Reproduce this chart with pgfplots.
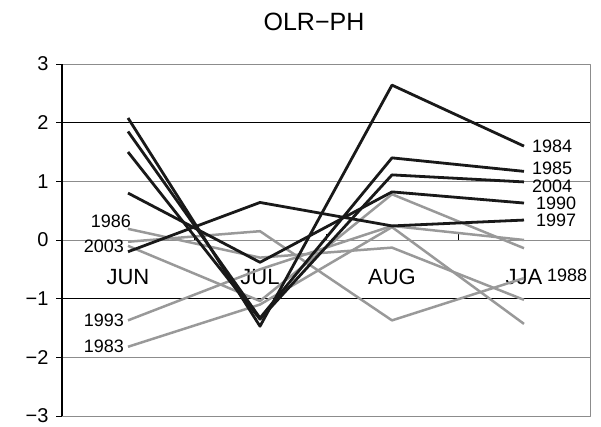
\documentclass[border=0pt]{standalone}
\usepackage{pgfplots}
\pgfplotsset{compat=1.18}
\usepackage{fontspec}
\setmainfont{Liberation Sans}
\definecolor{blk}{gray}{0.1}
\definecolor{gry}{gray}{0.6}
\definecolor{grid}{gray}{0.55}
\begin{document}
\begin{tikzpicture}
\begin{axis}[
  scale only axis, width=528pt, height=352pt,
  xmin=-0.5, xmax=3.5, ymin=-3, ymax=3,
  ytick={-3,-2,-1,0,1,2,3},
  yticklabels={−3,−2,−1,0,1,2,3},
  yticklabel style={font=\fontsize{20}{20}\selectfont, xshift=-10pt},
  xtick=\empty,
  axis line style={grid, line width=1pt},
  tick style={draw=none},
  clip=false,
  line join=round,
]
% grid
\draw[grid, line width=1pt] (axis cs:-0.5,1) -- (axis cs:3.5,1);
\draw[grid, line width=1pt] (axis cs:-0.5,0) -- (axis cs:3.5,0);
\draw[grid, line width=1pt] (axis cs:-0.5,-2) -- (axis cs:3.5,-2);
\draw[black, line width=0.8pt] (axis cs:-0.5,2) -- (axis cs:3.5,2);
\draw[black, line width=0.8pt] (axis cs:-0.5,-1) -- (axis cs:3.5,-1);
\draw[black, line width=1.2pt] (axis cs:-0.5,-3) -- (axis cs:-0.5,3);
\pgfplotsinvokeforeach{-3,-2,-1,0,1,2,3}{\draw[black,line width=1pt] (axis cs:-0.5,#1) -- ++(-6pt,0pt);}
\pgfplotsinvokeforeach{0.5,1.5,2.5}{\draw[black,line width=0.8pt] (axis cs:#1,0) -- ++(0pt,6pt);}
% category labels
\node[font=\fontsize{22}{22}\selectfont] at (axis cs:0,-0.63) {JUN};
\node[font=\fontsize{22}{22}\selectfont] at (axis cs:1,-0.63) {JUL};
\node[font=\fontsize{22}{22}\selectfont] at (axis cs:2,-0.63) {AUG};
\node[font=\fontsize{22}{22}\selectfont] at (axis cs:3,-0.63) {JJA};
% gray series
\addplot[gry, line width=2.5pt] coordinates {(0,0.19) (1,-0.30) (2,-0.13) (3,-1.02)};% 1986
\addplot[gry, line width=2.5pt] coordinates {(0,-0.10) (1,-1.04) (2,0.78) (3,-0.14)};% 2003
\addplot[gry, line width=2.5pt] coordinates {(0,-0.03) (1,0.15) (2,-1.37) (3,-0.65)};% 1988
\addplot[gry, line width=2.5pt] coordinates {(0,-1.37) (1,-0.50) (2,0.24) (3,0.00)};% 1993
\addplot[gry, line width=2.5pt] coordinates {(0,-1.82) (1,-1.10) (2,0.22) (3,-1.43)};% 1983
% black series
\addplot[blk, line width=2.8pt] coordinates {(0,2.08) (1,-1.47) (2,2.64) (3,1.60)};% 1984
\addplot[blk, line width=2.8pt] coordinates {(0,1.85) (1,-1.33) (2,1.40) (3,1.17)};% 1985
\addplot[blk, line width=2.8pt] coordinates {(0,1.50) (1,-1.35) (2,1.11) (3,0.99)};% 2004
\addplot[blk, line width=2.8pt] coordinates {(0,0.80) (1,-0.38) (2,0.82) (3,0.63)};% 1990
\addplot[blk, line width=2.8pt] coordinates {(0,-0.20) (1,0.64) (2,0.24) (3,0.34)};% 1997
% labels
\begin{scope}[every node/.style={font=\fontsize{18}{18}\selectfont, inner sep=0pt}]
\node[anchor=west] at ([xshift=8pt]axis cs:3,1.60) {1984};
\node[anchor=west] at ([xshift=8pt]axis cs:3,1.23) {1985};
\node[anchor=west] at ([xshift=8pt]axis cs:3,0.91) {2004};
\node[anchor=west] at ([xshift=12pt]axis cs:3,0.63) {1990};
\node[anchor=west] at ([xshift=12pt]axis cs:3,0.33) {1997};
\node[anchor=west] at ([xshift=23pt]axis cs:3,-0.60) {1988};
\node[anchor=east] at ([xshift=3pt]axis cs:0,0.32) {1986};
\node[anchor=east] at ([xshift=-4pt]axis cs:0,-0.10) {2003};
\node[anchor=east] at ([xshift=-4pt]axis cs:0,-1.37) {1993};
\node[anchor=east] at ([xshift=-4pt]axis cs:0,-1.81) {1983};
\end{scope}
\node[font=\fontsize{25}{25}\selectfont] at ([xshift=-12pt,yshift=42pt]axis cs:1.5,3) {OLR−PH};
\end{axis}
\path (current axis.south west) ++(-62pt,-5pt) rectangle ++(601pt,421pt);
\end{tikzpicture}
\end{document}
